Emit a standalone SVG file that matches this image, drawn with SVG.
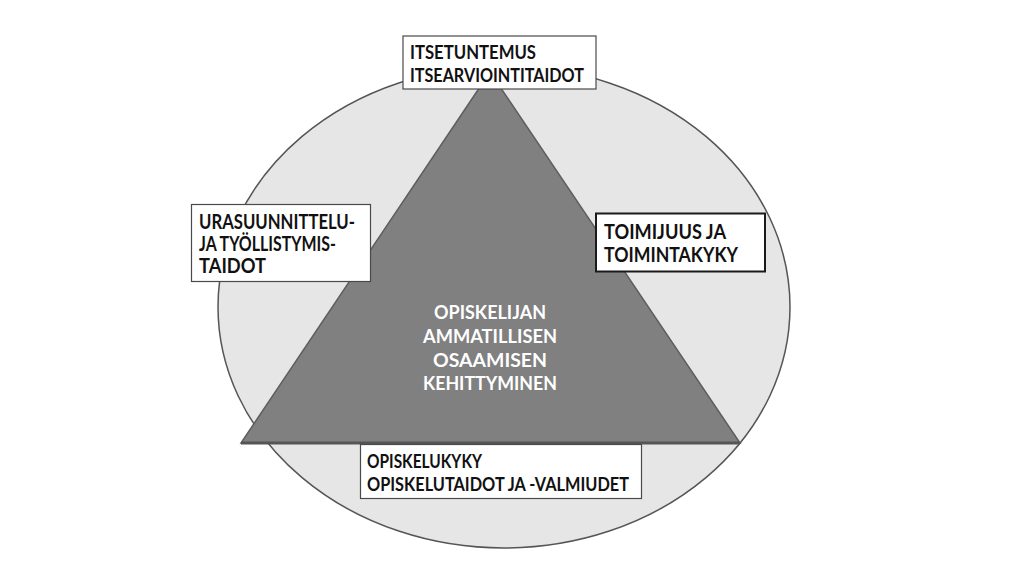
<svg xmlns="http://www.w3.org/2000/svg" width="1024" height="576" viewBox="0 0 1024 576">
<style>
.box{fill:#ffffff;stroke:#4a4a4a;stroke-width:1.2}
.t{font-family:Lato,"Liberation Sans",sans-serif;font-weight:bold;fill:#111111}
.w{font-family:Lato,"Liberation Sans",sans-serif;font-weight:bold;fill:#ffffff;text-anchor:middle}
</style>
<rect width="1024" height="576" fill="#ffffff"/>
<g id="background">
<ellipse cx="504" cy="307" rx="286" ry="241" fill="#e6e6e6" stroke="#555555" stroke-width="1.5"/>
<polygon points="490,72 241,443 740,443" fill="#808080" stroke="#5e5e5e" stroke-width="1.5"/>
<line x1="241" y1="443" x2="740" y2="443" stroke="#555555" stroke-width="3"/>
</g>
<g id="center">
<text class="w" font-size="19" x="490" y="319" textLength="112" lengthAdjust="spacingAndGlyphs">OPISKELIJAN</text>
<text class="w" font-size="19" x="490" y="343" textLength="134" lengthAdjust="spacingAndGlyphs">AMMATILLISEN</text>
<text class="w" font-size="19" x="490" y="367" textLength="114" lengthAdjust="spacingAndGlyphs">OSAAMISEN</text>
<text class="w" font-size="19" x="490" y="390" textLength="134" lengthAdjust="spacingAndGlyphs">KEHITTYMINEN</text>
</g>
<g id="node-top">
<rect class="box" x="403" y="36" width="193" height="53"/>
<text class="t" font-size="18.5" x="410" y="59" textLength="126" lengthAdjust="spacingAndGlyphs">ITSETUNTEMUS</text>
<text class="t" font-size="18.5" x="410" y="82" textLength="174" lengthAdjust="spacingAndGlyphs">ITSEARVIOINTITAIDOT</text>
</g>
<g id="node-left">
<rect class="box" x="191.5" y="204.5" width="179" height="77"/>
<text class="t" font-size="20" x="199" y="229" textLength="156" lengthAdjust="spacingAndGlyphs">URASUUNNITTELU-</text>
<text class="t" font-size="20" x="199" y="251" textLength="137" lengthAdjust="spacingAndGlyphs">JA TYÖLLISTYMIS-</text>
<text class="t" font-size="20" x="199" y="273" textLength="67" lengthAdjust="spacingAndGlyphs">TAIDOT</text>
</g>
<g id="node-right">
<rect x="596" y="213.5" width="169" height="58" fill="#ffffff" stroke="#1a1a1a" stroke-width="2"/>
<text class="t" font-size="20" x="604" y="239" textLength="122" lengthAdjust="spacingAndGlyphs">TOIMIJUUS JA</text>
<text class="t" font-size="20" x="604" y="262" textLength="134" lengthAdjust="spacingAndGlyphs">TOIMINTAKYKY</text>
</g>
<g id="node-bottom">
<rect class="box" x="360.5" y="444.5" width="281" height="54"/>
<text class="t" font-size="18.5" x="367" y="468" textLength="115" lengthAdjust="spacingAndGlyphs">OPISKELUKYKY</text>
<text class="t" font-size="18.5" x="367" y="491" textLength="262" lengthAdjust="spacingAndGlyphs">OPISKELUTAIDOT JA -VALMIUDET</text>
</g>
<g id="connectors"></g>
</svg>
